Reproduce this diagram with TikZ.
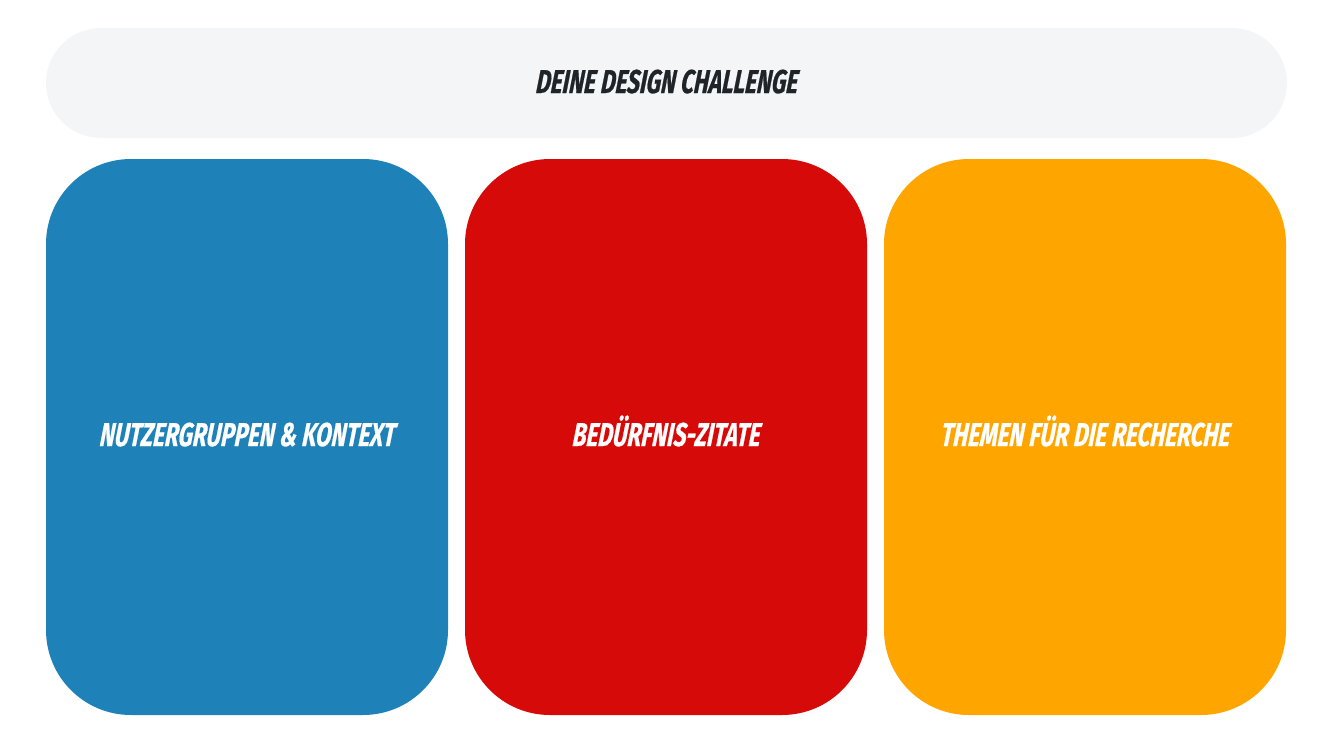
\documentclass[tikz,border=0pt]{standalone}
\usepackage{fontspec}
\newfontfamily\comicfont{Fira Sans}[FakeStretch=0.69,FakeSlant=0.1,FakeBold=0.6]
\definecolor{bannergray}{HTML}{F3F5F7}
\definecolor{titledark}{HTML}{1F2428}
\definecolor{nutzerblue}{HTML}{1E81B8}
\definecolor{zitatred}{HTML}{D70A0A}
\definecolor{themaorange}{HTML}{FFA500}
\begin{document}
\begin{tikzpicture}[x=1pt, y=-1pt,
  card/.style={rounded corners=85pt, minimum width=402pt, minimum height=556pt,
    inner sep=0pt, text height=23pt, text depth=5pt, text=white,
    font=\comicfont\bfseries\itshape\fontsize{33}{36}\selectfont}]
\useasboundingbox (0,0) rectangle (1333,750);
% banner
\node[fill=bannergray, rounded corners=55pt, minimum width=1241pt, minimum height=110pt,
  inner sep=0pt, text height=23pt, text depth=3pt, text=titledark,
  font=\comicfont\bfseries\itshape\fontsize{33}{36}\selectfont]
  (challenge) at (666.5,83) {DEINE DESIGN CHALLENGE};
% three cards
\node[card, fill=nutzerblue] (nutzer) at (247,437) {NUTZERGRUPPEN \& KONTEXT};
\node[card, fill=zitatred] (zitate) at (666,437) {BEDÜRFNIS-ZITATE};
\node[card, fill=themaorange] (themen) at (1085,437) {THEMEN FÜR DIE RECHERCHE};
\end{tikzpicture}
\end{document}
